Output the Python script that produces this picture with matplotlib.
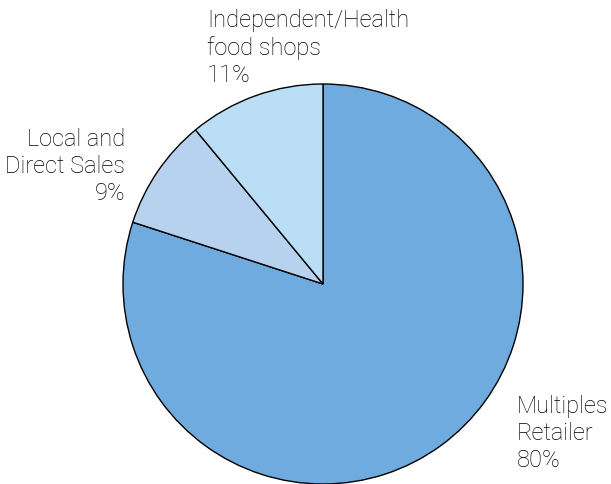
import matplotlib
matplotlib.use("Agg")
import matplotlib.pyplot as plt

labels = ["Multiples\nRetailer", "Local and\nDirect Sales", "Independent/Health\nfood shops"]
shares = [80, 9, 11]
colors = ["#6FABDE", "#B7D2EE", "#B9DEF6"]

plt.rcParams["font.family"] = ["Roboto", "DejaVu Sans"]

fig = plt.figure(figsize=(6.11, 4.84), dpi=100)
ax = fig.add_axes([123 / 611, 0 / 484, 400 / 611, 400 / 484])
wedges, _ = ax.pie(shares, colors=colors, startangle=90, counterclock=False,
                   radius=1.0,
                   wedgeprops=dict(edgecolor="black", linewidth=1.0))
for w in wedges:
    w.set_clip_on(False)
ax.set_xlim(-1, 1)
ax.set_ylim(-1, 1)
ax.set_aspect("auto")
ax.axis("off")

txt = dict(fontsize=17, color="black", linespacing=1.22, fontweight="light")
fig.text(517 / 611, 1 - 395 / 484, f"{labels[0]}\n{shares[0]}%", ha="left", va="top", **txt)
fig.text(125 / 611, 1 - 128 / 484, f"{labels[1]}\n{shares[1]}%", ha="right", va="top", **txt, multialignment="right")
fig.text(207 / 611, 1 - 9 / 484, f"{labels[2]}\n{shares[2]}%", ha="left", va="top", **txt)

fig.savefig("out.png", dpi=100)
